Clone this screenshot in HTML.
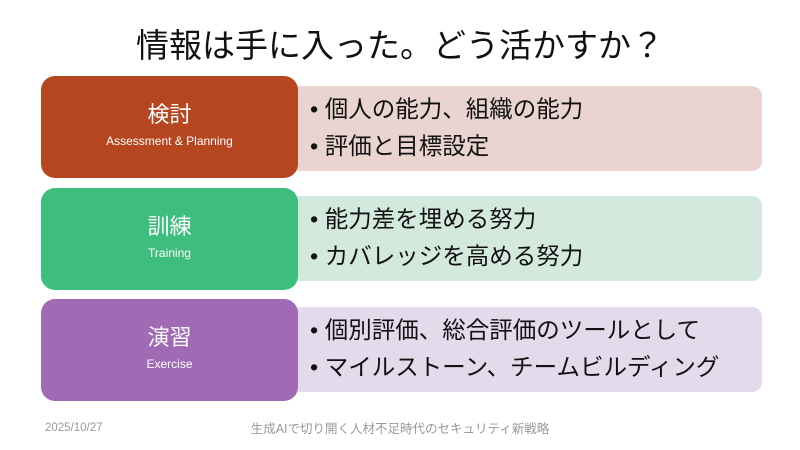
<!DOCTYPE html>
<html><head><meta charset="utf-8"><style>
body{margin:0;width:800px;height:450px;background:#fff;position:relative;overflow:hidden;font-family:"Liberation Sans","Noto Sans CJK JP",sans-serif}
.t{position:absolute;left:0;width:800px;top:19px;text-align:center;font-size:33px;color:#111}
.L{position:absolute;left:41px;width:257px;height:102px;border-radius:14px;color:#fff;text-align:center;z-index:2}
.L b{display:block;font-weight:normal;font-size:22px;margin-top:25px;line-height:28px}
.L i{display:block;font-style:normal;font-size:12px;line-height:16px;margin-top:4px}
.R{position:absolute;left:290px;width:472px;height:85px;border-radius:10px;font-size:23.5px;color:#111;z-index:1}
.R div{position:absolute;left:20px}
.f{position:absolute;top:421px;font-size:11.5px;color:#999}
</style></head><body>
<div class="t">情報は手に入った。どう活かすか？</div>
<div class="L" style="top:76px;background:#B5461F"><b>検討</b><i>Assessment &amp; Planning</i></div>
<div class="R" style="top:86px;background:#E9D4D0"><div style="top:4px">• 個人の能力、組織の能力</div><div style="top:41px">• 評価と目標設定</div></div>
<div class="L" style="top:188px;background:#3DBE7C"><b>訓練</b><i>Training</i></div>
<div class="R" style="top:196px;background:#D4E9DD"><div style="top:4px">• 能力差を埋める努力</div><div style="top:41px">• カバレッジを高める努力</div></div>
<div class="L" style="top:299px;background:#A06BB4"><b>演習</b><i>Exercise</i></div>
<div class="R" style="top:307px;background:#E3DAEB"><div style="top:4px">• 個別評価、総合評価のツールとして</div><div style="top:41px">• マイルストーン、チームビルディング</div></div>
<div class="f" style="left:45px;top:422px">2025/10/27</div>
<div class="f" style="left:200px;top:418px;width:400px;text-align:center;font-size:12.5px">生成AIで切り開く人材不足時代のセキュリティ新戦略</div>
</body></html>
